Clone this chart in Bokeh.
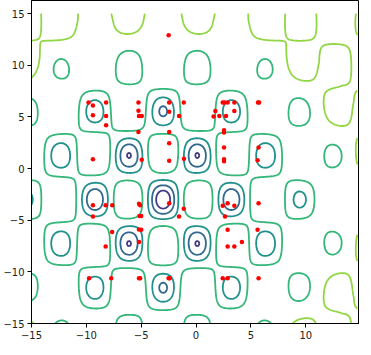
import numpy as np
from bokeh.plotting import figure
from bokeh.models import Range1d, FixedTicker, CustomJSTickFormatter
from bokeh.embed import file_html
from bokeh.resources import INLINE

# ---- surface definition (landscape shown by the contours) ----
x_grid = np.linspace(-15, 14.7, 298)
y_grid = np.linspace(-15, 15, 301)
center_x = -3.0
center_y = -3.0
y_period_scale = 1.386
levels = [0, 1, 2, 3, 4, 5, 6]
level_colors = ['#440154', '#443983', '#31688E', '#21918C',
                '#35B779', '#90D743', '#FDE725']

# ---- sampled points (red dots) ----
pts_x = [-2.5,
         -9.8, -8.2, -9.4, -9.4, -8.2, -8.2, -9.4,
         -5.25, -5.25, -5.2, -4.95, -5.25, -4.95,
         -2.45, -2.45, -2.45, -2.45, -2.45,
         -1.12, -1.55, -1.1,
         2.43, 2.6, 2.88, 3.49, 1.76, 3.49, 2.12, 2.73, 1.6,
         2.55, 2.55, 2.55, 2.55, 2.55, 5.65, 5.75, 5.7, 5.61,
         -9.4, -8.24, -7.64, -9.4, -5.2, -5.1, -5.15, -5.0, -5.2, -5.0,
         -7.65, -8.24, -5.2, -2.45, -1.12, -1.55,
         2.43, 2.88, 3.49, 2.64, 5.7, 2.88, 5.61, 4.18, 2.88, 3.49,
         -9.75, -7.73, -5.2, -5.1, -2.5, -2.4, 2.43, 2.88, 5.7]
pts_y = [12.9,
         6.4, 6.4, 6.1, 5.15, 5.1, 4.2, 0.9,
         6.4, 5.6, 5.1, 5.1, 3.55, 0.85,
         6.4, 5.5, 3.55, 2.45, 0.75,
         6.4, 5.1, 0.95,
         6.4, 6.4, 6.4, 6.4, 5.58, 5.58, 5.1, 5.1, 5.05,
         3.7, 3.5, 2.05, 0.9, 0.7, 6.4, 6.4, 2.03, 0.8,
         -3.55, -3.55, -3.55, -4.65, -3.4, -3.55, -4.6, -4.6, -5.9, -5.93,
         -6.13, -7.55, -7.1, -3.35, -3.9, -4.65,
         -3.6, -3.36, -3.6, -4.65, -3.36, -5.93, -5.93, -7.1, -7.55, -7.55,
         -10.62, -10.62, -10.62, -10.62, -10.62, -10.62, -10.62, -10.62, -10.62]

x_ticks = [-15, -10, -5, 0, 5, 10]
y_ticks = [-15, -10, -5, 0, 5, 10, 15]

# ---- evaluate landscape on grid ----
X, Y = np.meshgrid(x_grid, y_grid)
u = X - center_x
v = Y - center_y
C = np.cos(u) * np.cos(v / y_period_scale)
r = np.hypot(0.94 * u, v)
t = np.clip((r - 14.0) / 3.5, 0.0, 1.0)
base = np.minimum(3.3 + 0.08 * r + 0.22 * (3 * t ** 2 - 2 * t ** 3), 5.03)
amp = 3.2 * np.exp(-(r / 14.0) ** 2)
a = 0.8
shape = (np.exp(a * C) - 1) / (np.exp(a) - 1)
Z = base - amp * shape

p = figure(width=359, height=347, x_range=Range1d(-15, 14.9),
           y_range=Range1d(-15, 16.27), output_backend="svg",
           toolbar_location=None, min_border_left=30, min_border_right=0,
           min_border_top=0, min_border_bottom=24)
p.grid.visible = False
p.outline_line_color = "black"
p.outline_line_width = 1
p.background_fill_color = "white"
p.border_fill_color = "white"

p.contour(x_grid, y_grid, Z, levels, line_color=level_colors, line_width=1.8)
p.scatter(pts_x, pts_y, size=4.5, fill_color="red", line_color=None)

fmt = CustomJSTickFormatter(code="return tick < 0 ? '\u2212' + Math.abs(tick) : tick.toString();")
for ax, ticks in ((p.xaxis, x_ticks), (p.yaxis, y_ticks)):
    ax.ticker = FixedTicker(ticks=ticks)
    ax.formatter = fmt
    ax.major_tick_out = 4
    ax.major_tick_in = 0
    ax.minor_tick_out = 0
    ax.minor_tick_in = 0
    ax.axis_line_color = "black"
    ax.major_tick_line_color = "black"
    ax.major_label_text_font = "DejaVu Sans"
    ax.major_label_text_font_size = "10px"
    ax.major_label_text_color = "#222222"
    ax.major_label_standoff = 3

open("out.html", "w").write(file_html(p, INLINE))
